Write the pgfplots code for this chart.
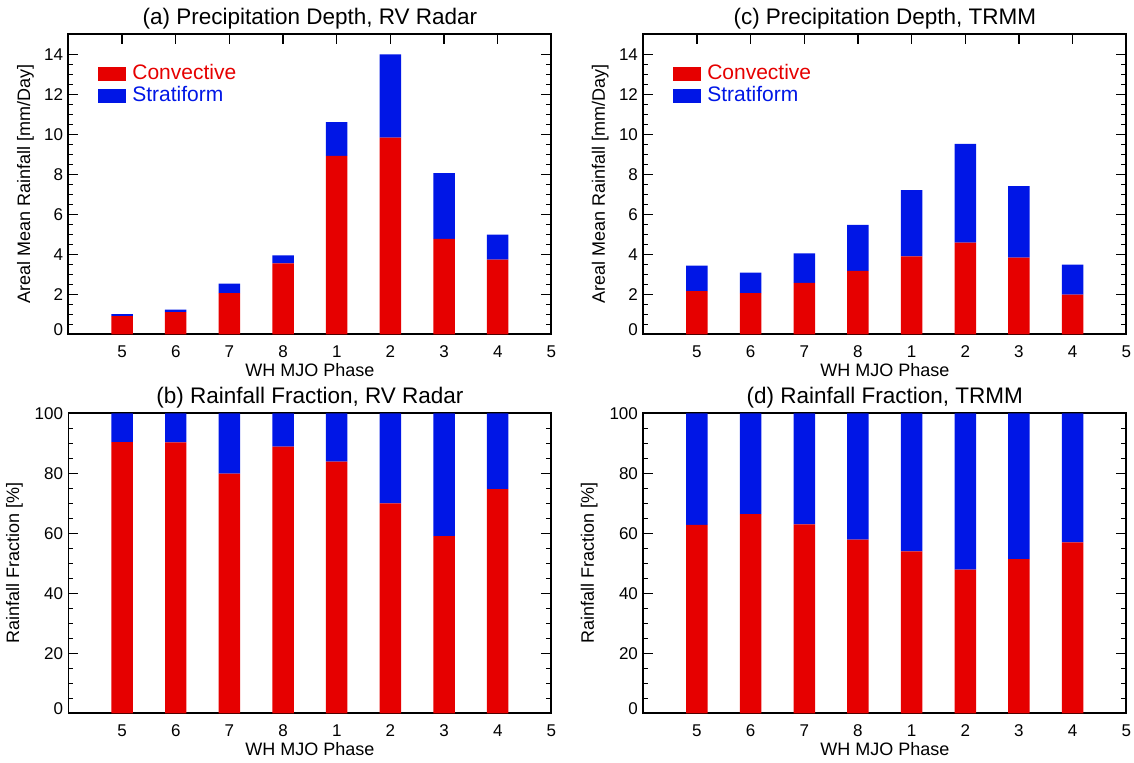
\documentclass[border=0pt]{standalone}
\usepackage{pgfplots}
\pgfplotsset{compat=1.18}
\usepackage{fontspec}
\setmainfont{Liberation Sans}
\definecolor{cred}{RGB}{230,0,0}
\definecolor{cblue}{RGB}{0,22,230}

\pgfplotsset{
  every axis title shift=0pt,
  panel/.style={
    scale only axis, width=241.5pt, height=150pt,
    xmin=0, xmax=9, xtick={1,...,9}, xticklabels={5,6,7,8,1,2,3,4,5},
    ymin=0,
    tick align=inside, major tick length=5pt, minor tick length=2.5pt,
    minor y tick num=3, minor x tick num=0,
    axis line style={line width=0.9pt},
    every tick/.style={black, line width=0.6pt},
    ybar stacked, bar width=0.4,
    /pgf/number format/assume math mode=true,
    tick label style={font=\fontsize{8.5}{10}\selectfont},
    xticklabel style={anchor=center, yshift=-8.5pt},
    yticklabel style={anchor=east, inner sep=0pt, xshift=-2.5pt},
    yticklabel={\ifdim\tick pt=0pt \raisebox{5pt}{0}\else\pgfmathprintnumber{\tick}\fi},
    label style={font=\fontsize{9}{11}\selectfont},
    xlabel={WH MJO Phase},
    xlabel style={at={([yshift=-18pt]axis description cs:0.5,0)}, anchor=center},
    title style={at={([yshift=8pt]axis description cs:0.5,1)}, anchor=center,
                 font=\fontsize{11.25}{13}\selectfont},
    legend style={draw=none, fill=none, inner sep=0pt,
                  nodes={inner sep=0pt},
                  column sep=3.3pt, row sep=1.9pt,
                  at={(axis description cs:0.06,0.9)}, anchor=north west,
                  font=\fontsize{10.5}{12}\selectfont},
    legend cell align=left,
  },
  toppanel/.style={panel, ymax=15, ytick={0,2,...,14},
    ylabel={Areal Mean Rainfall [mm/Day]},
    ylabel style={at={([xshift=-21.5pt]axis description cs:0,0.5)}, anchor=center}},
  botpanel/.style={panel, ymax=100, ytick={0,20,...,100},
    ylabel={Rainfall Fraction [\%]},
    ylabel style={at={([xshift=-27pt]axis description cs:0,0.5)}, anchor=center}},
  convbar/.style={fill=cred, draw=none,
    legend image code/.code={\fill[cred] (0pt,-3.35pt) rectangle (14pt,3.35pt);}},
  stratbar/.style={fill=cblue, draw=none,
    legend image code/.code={\fill[cblue] (0pt,-3.35pt) rectangle (14pt,3.35pt);}},
}

% x: 1..8 = phases 5,6,7,8,1,2,3,4
\pgfplotstableread{
x conv strat
1 0.91 0.10
2 1.11 0.12
3 2.06 0.48
4 3.55 0.40
5 8.92 1.69
6 9.83 4.17
7 4.77 3.29
8 3.74 1.24
}\radardepth
\pgfplotstableread{
x conv strat
1 2.16 1.28
2 2.06 1.03
3 2.57 1.48
4 3.17 2.30
5 3.90 3.31
6 4.58 4.94
7 3.84 3.57
8 1.99 1.50
}\trmmdepth
\pgfplotstableread{
x conv strat
1 90.4 9.6
2 90.3 9.7
3 79.9 20.1
4 88.9 11.1
5 83.9 16.1
6 70.0 30.0
7 59.1 40.9
8 74.7 25.3
}\radarfrac
\pgfplotstableread{
x conv strat
1 62.8 37.2
2 66.4 33.6
3 63.0 37.0
4 57.9 42.1
5 54.0 46.0
6 47.9 52.1
7 51.4 48.6
8 57.0 43.0
}\trmmfrac

\begin{document}
\begin{tikzpicture}
\path[use as bounding box] (0,0) rectangle (567pt,381pt);

\begin{axis}[toppanel, at={(34.2pt,213.85pt)}, anchor=south west,
  title={(a) Precipitation Depth, RV Radar}]
\addplot[convbar] table[x=x,y=conv]{\radardepth};
\addplot[stratbar] table[x=x,y=strat]{\radardepth};
\addlegendentry{\textcolor{cred}{Convective}}
\addlegendentry{\textcolor{cblue}{Stratiform}}
\end{axis}

\begin{axis}[toppanel, at={(321.65pt,213.85pt)}, anchor=south west,
  title={(c) Precipitation Depth, TRMM}]
\addplot[convbar] table[x=x,y=conv]{\trmmdepth};
\addplot[stratbar] table[x=x,y=strat]{\trmmdepth};
\addlegendentry{\textcolor{cred}{Convective}}
\addlegendentry{\textcolor{cblue}{Stratiform}}
\end{axis}

\begin{axis}[botpanel, at={(34.2pt,24.35pt)}, anchor=south west,
  title={(b) Rainfall Fraction, RV Radar}]
\addplot[convbar] table[x=x,y=conv]{\radarfrac};
\addplot[stratbar] table[x=x,y=strat]{\radarfrac};
\end{axis}

\begin{axis}[botpanel, at={(321.65pt,24.35pt)}, anchor=south west,
  title={(d) Rainfall Fraction, TRMM}]
\addplot[convbar] table[x=x,y=conv]{\trmmfrac};
\addplot[stratbar] table[x=x,y=strat]{\trmmfrac};
\end{axis}
\end{tikzpicture}
\end{document}
